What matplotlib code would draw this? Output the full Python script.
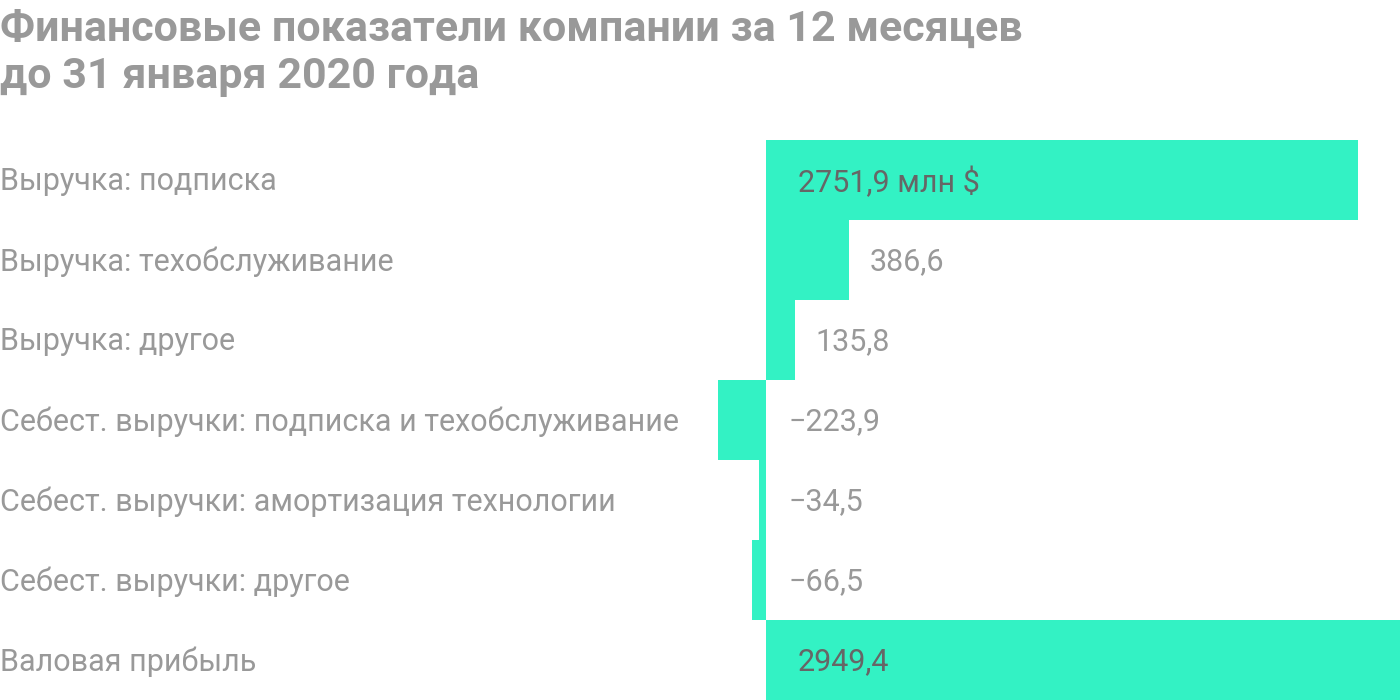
import matplotlib
matplotlib.use("Agg")
import matplotlib.pyplot as plt

categories = [
    "Выручка: подписка",
    "Выручка: техобслуживание",
    "Выручка: другое",
    "Себест. выручки: подписка и техобслуживание",
    "Себест. выручки: амортизация технологии",
    "Себест. выручки: другое",
    "Валовая прибыль",
]
values = [2751.9, 386.6, 135.8, -223.9, -34.5, -66.5, 2949.4]
value_labels = ["2751,9 млн $", "386,6", "135,8", "−223,9", "−34,5", "−66,5", "2949,4"]

title = "Финансовые показатели компании за 12 месяцев\nдо 31 января 2020 года"

bar_color = "#33f2c4"
label_color = "#999999"
inside_color = "#666666"

plt.rcParams['font.family'] = ['Roboto', 'DejaVu Sans']

fig = plt.figure(figsize=(14, 7), dpi=100)
ax = fig.add_axes([718 / 1400, 0, 682 / 1400, 0.8])

ypos = list(range(len(values)))
ax.barh(ypos, values, height=1.0, color=bar_color, linewidth=0)
ax.set_xlim(min(values), max(values))
ax.set_ylim(len(values) - 0.5, -0.5)
ax.axis("off")

fs = 22
for i, (v, lab) in enumerate(zip(values, value_labels)):
    if v > 1000:
        ax.annotate(lab, (0, i), xytext=(32, -2), textcoords="offset pixels",
                    va="center", ha="left", fontsize=fs, color=inside_color)
    elif v > 0:
        ax.annotate(lab, (v, i), xytext=(20, -2), textcoords="offset pixels",
                    va="center", ha="left", fontsize=fs, color=label_color)
    else:
        ax.annotate(lab, (0, i), xytext=(22, -2), textcoords="offset pixels",
                    va="center", ha="left", fontsize=fs, color=label_color)

# category labels at the left edge of the figure
for i, cat in enumerate(categories):
    y_fig = 0.8 - (i + 0.5) * 0.8 / len(categories) - 2 / 700
    fig.text(0.0, y_fig, cat, ha="left", va="center", fontsize=fs, color=label_color)

fig.text(0.0, 0.988, title, ha="left", va="top", fontsize=31, fontweight="bold",
         color=label_color, linespacing=1.22)

fig.savefig("out.png", dpi=100)
